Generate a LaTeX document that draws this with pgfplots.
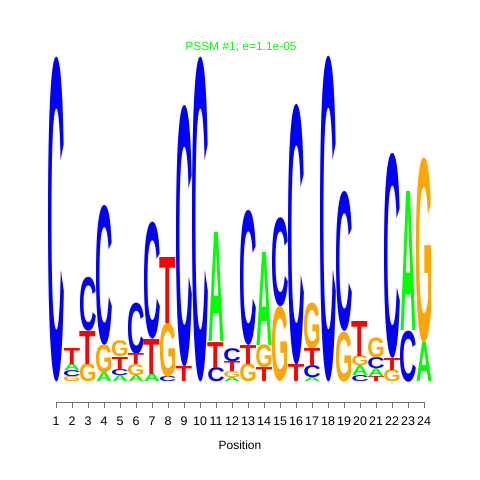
\documentclass[border=0pt]{standalone}
\usepackage{fontspec}
\setmainfont{Liberation Sans}
\usepackage{graphicx}
\usepackage{pgfplots}
\usepackage{pgfplotstable}
\pgfplotsset{compat=1.18}
\definecolor{lA}{RGB}{0,255,0}
\definecolor{lC}{RGB}{0,0,255}
\definecolor{lG}{RGB}{255,165,0}
\definecolor{lT}{RGB}{255,0,0}
\definecolor{axgray}{RGB}{110,110,110}

% x = position, b = base of letter (bits), h = letter height (bits)
\pgfplotstableread{
x b h
2 0.068 0.043
4 0 0.056
5 0 0.037
6 0 0.037
7 0 0.049
11 0.247 0.673
12 0 0.025
14 0.228 0.574
17 0 0.025
20 0.037 0.062
21 0.031 0.049
23 0.315 0.858
24 0 0.241
}\tabA
\pgfplotstableread{
x b h
1 0 2.000
2 0.031 0.037
3 0.315 0.333
4 0.228 0.864
5 0.037 0.037
6 0.173 0.315
7 0.265 0.722
8 0 0.031
9 0.093 1.611
10 0 2.000
11 0 0.086
12 0.123 0.080
13 0.228 0.833
15 0.463 0.549
16 0.105 1.605
17 0.025 0.074
18 0 2.006
19 0.309 0.864
20 0 0.037
21 0.080 0.068
22 0.148 1.265
23 0 0.315
}\tabC
\pgfplotstableread{
x b h
2 0 0.031
3 0 0.111
4 0.056 0.173
5 0.154 0.099
6 0.037 0.068
8 0.031 0.333
12 0.025 0.037
13 0 0.111
14 0.086 0.142
15 0 0.463
17 0.204 0.284
19 0 0.309
20 0.099 0.062
21 0.148 0.123
22 0 0.074
24 0.241 1.142
}\tabG
\pgfplotstableread{
x b h
2 0.111 0.099
3 0.111 0.204
5 0.074 0.080
6 0.105 0.068
7 0.049 0.216
8 0.364 0.407
9 0 0.093
11 0.086 0.160
12 0.062 0.062
13 0.111 0.117
14 0 0.086
16 0 0.105
17 0.099 0.105
20 0.160 0.216
21 0 0.031
22 0.074 0.074
}\tabT

\pgfplotsset{
  logo/.style n args={3}{draw=none, mark=none,
    point meta=explicit symbolic,
    nodes near coords={\pgfmathsetlengthmacro\LL{\pgfplotspointmeta*162bp}\resizebox*{#3}{\LL}{\textcolor{#2}{\bfseries #1}}},
    every node near coord/.append style={anchor=south, inner sep=0pt, outer sep=0pt},
  },
}

\begin{document}
\begin{tikzpicture}
\begin{axis}[
  x=16bp, y=162bp,
  xmin=1, xmax=24, ymin=-0.1235, ymax=2.1,
  axis x line=bottom, axis y line=none,
  x axis line style={-, draw=axgray, line width=0.8bp},
  xtick={1,2,3,4,5,6,7,8,9,10,11,12,13,14,15,16,17,18,19,20,21,22,23,24},
  xticklabels={1,2,3,4,5,6,7,8,9,10,11,12,13,14,15,16,17,18,19,20,21,22,23,24},
  tick align=outside, major tick length=6bp,
  xtick style={draw=axgray, line width=0.8bp},
  tick label style={font=\fontsize{12.5}{14}\selectfont},
  xticklabel style={text=black, anchor=center, yshift=-13bp},
  xlabel={Position},
  xlabel style={font=\fontsize{12}{14}\selectfont, at={(axis description cs:0.5,-0.1194)}, anchor=center},
  clip=false,
]
\addplot[logo={A}{lA}{16bp}] table[x=x, y=b, meta=h] {\tabA};
\addplot[logo={C}{lC}{17.5bp}] table[x=x, y=b, meta=h] {\tabC};
\addplot[logo={G}{lG}{17.5bp}] table[x=x, y=b, meta=h] {\tabG};
\addplot[logo={T}{lT}{16.5bp}] table[x=x, y=b, meta=h] {\tabT};
\node[text=lA, font=\fontsize{12}{14}\selectfont] at (axis cs:12.56,2.068) {PSSM \#1; e=1.1e-05};
\coordinate (bl) at (axis cs:-2.5,-0.605);
\coordinate (tr) at (axis cs:27.5,2.358);
\end{axis}
\pgfresetboundingbox
\path[use as bounding box] (bl) rectangle (tr);
\end{tikzpicture}
\end{document}
